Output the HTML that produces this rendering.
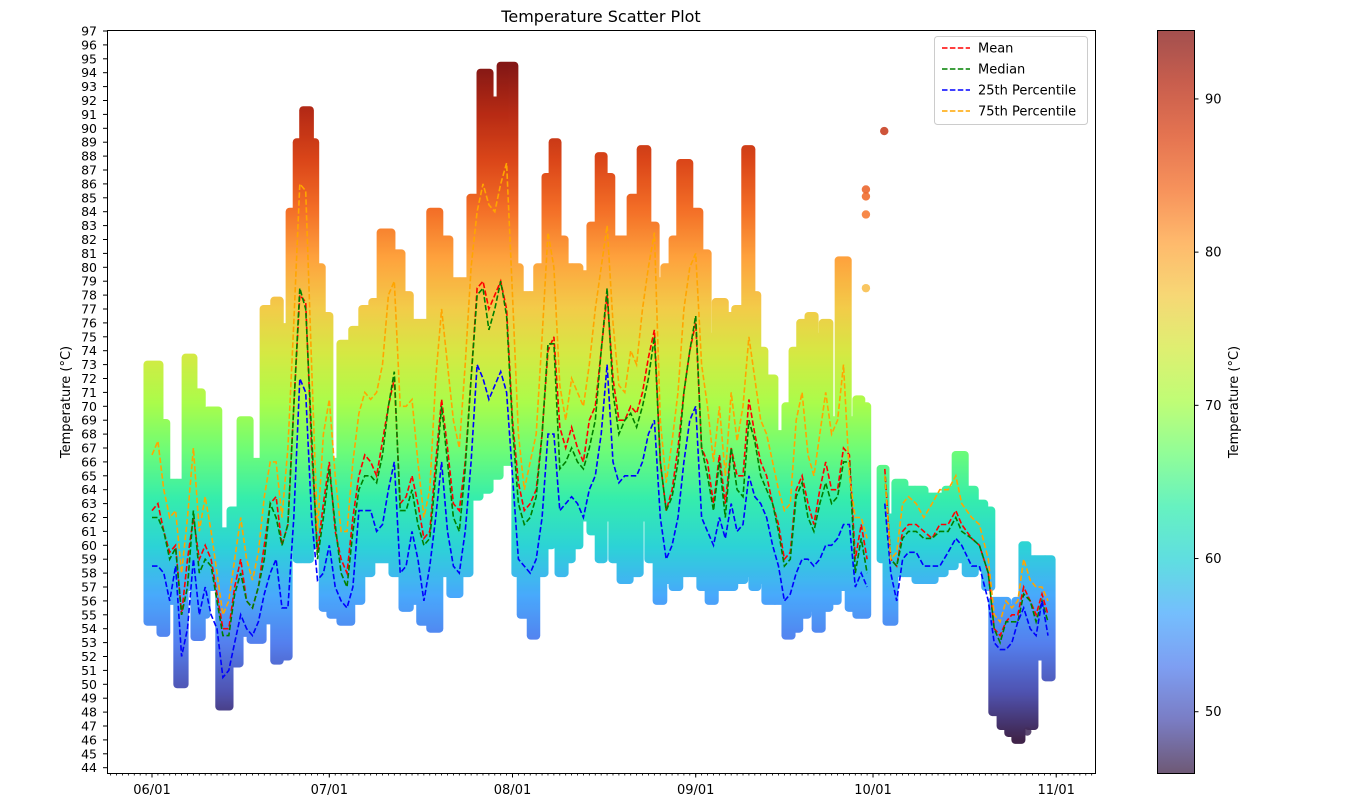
<!DOCTYPE html>
<html><head><meta charset="utf-8">
<style>
html,body{margin:0;padding:0;background:#fff;}
svg{display:block;font-family:"DejaVu Sans","Liberation Sans",sans-serif;}
</style></head>
<body>
<svg id="chart" width="1368" height="804" viewBox="0 0 1368 804" xmlns="http://www.w3.org/2000/svg">
<defs>
<linearGradient id="turboPlot" gradientUnits="userSpaceOnUse" x1="0" x2="0" y1="0" y2="0"></linearGradient>
<linearGradient id="turboBar" x1="0" x2="0" y1="1" y2="0"></linearGradient>
</defs>
<text x="601" y="22" text-anchor="middle" font-size="16">Temperature Scatter Plot</text>
<g id="plot"></g>
</svg>
<script>
// ---- data ----
const monthTickDays = [0, 30, 61, 92, 122, 153];
const monthTickLabels = ["06/01", "07/01", "08/01", "09/01", "10/01", "11/01"];
const colStart = [-0.85,1.35,2.5,4.2,5.6,7.1,8.5,9.3,11.3,13.2,14.9,16.6,18.8,20.6,21.7,23.2,24.4,25.5,26.8,27.7,28.8,30.1,31.8,33.8,35.5,37.2,38.6,40.6,42.3,43.7,45.3,47,48.7,50.4,52.1,53.8,55.5,57.2,58.9,61.4,62.3,64,65.1,66.5,67.7,68.7,69.9,71.1,72.4,74.1,75.5,76.5,77.8,79.2,80.9,82.6,83.9,85.3,86.6,88,89.3,91,92.7,94.1,95.3,97,98.6,100.3,101.5,102.5,103.7,105.4,107.1,108.3,109.6,111,112.2,113.4,114.7,116.1,117.8,119.1,120.1,123.2,124.2,125.7,127.4,129.1,130.8,132.5,134.2,135.9,137.6,139.3,140.9,142.1,143.5,144.8,146,147.2,148.2,149.4,151.1];
const colEnd = [1.35,2.5,4.2,5.6,7.1,8.5,9.3,11.3,13.2,14.9,16.6,18.8,20.6,21.7,23.2,24.4,25.5,26.8,27.7,28.8,30.1,31.8,33.8,35.5,37.2,38.6,40.6,42.3,43.7,45.3,47,48.7,50.4,52.1,53.8,55.5,57.2,58.9,61.4,62.3,64,65.1,66.5,67.7,68.7,69.9,71.1,72.4,74.1,75.5,76.5,77.8,79.2,80.9,82.6,83.9,85.3,86.6,88,89.3,91,92.7,94.1,95.3,97,98.6,100.3,101.5,102.5,103.7,105.4,107.1,108.3,109.6,111,112.2,113.4,114.7,116.1,117.8,119.1,120.1,121.1,124.2,125.7,127.4,129.1,130.8,132.5,134.2,135.9,137.6,139.3,140.9,142.1,143.5,144.8,146,147.2,148.2,149.4,151.1,152.3];
const colMax = [73,68.8,64.5,64.5,73.5,71,67,69.7,61,62.5,69,66,77,77.6,75.7,84,89,91.3,89,80,76.5,66,74.5,75.5,77,77.5,82.5,81,78,76,76,84,82,79,79,85,94,92,94.5,80,78,78,80,86.5,89,82,80,80,79.5,83,88,86.5,82,82,85,88.5,83,79,80,82,87.5,84,81,75,77.5,76.5,77,88.5,78,74,72,68,70,74,76,76.5,75,76,69,80.5,69,70.5,70,65.5,62,64.5,64,64,63.5,63.5,64,66.5,64,63,62.5,56,56,55.5,56,60,59,59,59];
const colMin = [54.5,53.7,56,50,57,53.4,55,57,48.4,51.5,53.7,53.2,54.6,51.7,52,60,59,59,60,61,55.5,55,54.5,56,58,59,59,58,55.5,56,54.5,54,58,56.5,58,63.5,64,65,66,58,55,53.5,58,60,61,58,59,60,62,61,59,62,59,57.5,58,62,59,56,57.5,57,58,58,57,56,57,57,57.5,58,57,57.5,56,56,53.5,54,55,55.5,54,55.5,56,57,55.5,55,55,59,54.5,58,58,57.5,57.5,58,58.5,59,58,58.5,57,48,47,46.5,46,50,47,52,50.5];
const outlierDays = [120.8,120.8,120.8,120.8,123.9,148.1];
const outlierTemps = [85.6,85.1,83.8,78.5,89.8,46.6];
const lineDays = [0,1,2,3,4,5,6,7,8,9,10,11,12,13,14,15,16,17,18,19,20,21,22,23,24,25,26,27,28,29,30,31,32,33,34,35,36,37,38,39,40,41,42,43,44,45,46,47,48,49,50,51,52,53,54,55,56,57,58,59,60,61,62,63,64,65,66,67,68,69,70,71,72,73,74,75,76,77,78,79,80,81,82,83,84,85,86,87,88,89,90,91,92,93,94,95,96,97,98,99,100,101,102,103,104,105,106,107,108,109,110,111,112,113,114,115,116,117,118,119,120,121,124,125,126,127,128,129.3,130.6,132,133.3,134.7,136,137,138.7,140,141.5,142.5,143.5,144.5,145.5,146.5,147.5,148.6,149.6,150.6,151.6];
const meanVals = [62.5,63,61,59.5,60,55,59,62,59,60,59,56.5,54,54,57,59,56,55.5,57,60,63,63.5,60,61.5,70,78,77.5,67,59.5,63,66,61,59,58,62,65,66.5,66,65,67.5,70,72,63,63.5,65,63,60.5,61,66,70.5,67,63,62.5,66,72,78.5,79,77,78,79,77,69,64.5,62.5,63,64,68,74,75,68.5,67,68.5,67,66,69,70,74,78,72,69,69,70,69.5,71,73.5,75.5,66,62.5,64,67,71,74,76,67,66,63,66.5,63,67,65,65,70.5,68,66,65,63,61.5,59,59.5,64,65,63,61.5,64,66,64,64,67,66.5,59,61.5,59,65.5,59,58.5,61,61.5,61.5,61,60.5,61.5,61.5,62.5,61.5,60.5,60,58,54,53.5,54.5,55,55,57,56,55,56.5,55];
const medianVals = [62,62,61,59,59.8,55,57,62.5,58,59,58.5,56,53.5,53.5,56.5,58,56,55.5,57,59,63,62,60,61.5,70,78.5,77,68,59,62,65.5,61.5,58,57,61,64,65,65,64.5,66.5,70,72.5,62.5,62.5,64,61.5,60,60.5,65,70,66,62,61,65.5,72,78,78.5,75.5,77,79,76.5,68.5,63,61.5,62,63.5,68,74.5,74.5,65.5,66,67,66,65.5,67,69,74,78.5,71,68,69,69.5,68.5,70,72,75,66,62.5,63.5,66,71,74,76.5,67,65,62.5,66,62,67,64,63.5,69,67.5,65,64,63,61,58.5,59,63.5,64.5,62,61,63,64.5,63,63.5,66,66,58,60.5,58,65,59,58.5,60.5,61,61,60.5,60.5,61,61,62,61,60.5,60,58,54,53,54.5,54.5,54.5,56.5,56,54.5,56,54.5];
const p25Vals = [58.5,58.5,58,56,58.5,52,54,59,55,57,55,54,50.5,51,53,55,54,53.5,54.5,56.5,58,59,55.5,55.5,62,72,71,62,57.5,58,60,57,56,55.5,57,62.5,62.5,62.5,61,61.5,64,66,58,58.5,61,59,56,58.5,62,66,61,58.5,58,61,66,73,72,70.5,71.5,72.5,71,65,59,58.5,58,59,62,68,68,62.5,63,63.5,63,62,64,65,68,73,66,64.5,65,65,65,66,68,69,62,59,60,62,66,69,70,62,61,60,62,60.5,63,61,61.5,65,63.5,63,62,60,58.5,56,56.5,58,59,59,58.5,59,60,60,60.5,61.5,61.5,57,58,57,63,58,56,59,59.5,59.5,58.5,58.5,58.5,59.5,60.5,60,58.5,58.5,56,53,52.5,52.5,53,54.5,55.5,54,53.5,56,53.5];
const p75Vals = [66.5,67.5,64,62,62.5,58,62,67,61,63.5,61,58,55,56,59,62,59,57.5,59.5,63.5,66,66,62,67,76,86,85.5,73,61,68,70.5,65,61,61,66,69.5,71,70.5,71,73,78,79,70,70,70.5,66,62,64,72,77,73,69,67,73,80,84,86,84.5,84,86,87.5,78,68,64,66,68,75,82.5,80,71.5,69,72,71,70,73,77,80,83,76,71.5,71,74,73,77,80,82.5,69,64.5,67.5,71,77,80,81,73,70,66,70,65,71,67.5,70,75,72,69,68,66,64,62.5,63,69,71,66.5,65,68,71,68,69,73,65,62,62,60.5,65,59,59.5,63,63.5,63,62,63,64,64,65,63,62,61.5,59,55,54.5,56,55.5,56,59,57.5,57,57,56];
const cbTicks = [50, 60, 70, 80, 90];
const yTickMin = 44, yTickMax = 97;

// ---- scales ----
const X0 = 152, PXD = 5.91;
const xS = d => X0 + d * PXD;
const yS = t => 31 + (97 - t) * 13.9;
const CMIN = 46, CMAX = 94.5;
const turbo = ["#30123B","#4145AB","#4675ED","#39A2FC","#1BCFD4","#24ECA6","#61FC6C","#A4FC3B","#D1E834","#F3C63A","#FE9B2D","#F36315","#D93806","#B11901","#7A0402"];
const NS = "http://www.w3.org/2000/svg";
function mk(tag, attrs, parent){const e=document.createElementNS(NS,tag);for(const k in attrs)e.setAttribute(k,attrs[k]);(parent||plot).appendChild(e);return e;}
const plot = document.getElementById('plot');

const gp = document.getElementById('turboPlot');
gp.setAttribute('y1', yS(CMIN)); gp.setAttribute('y2', yS(CMAX));
const gb = document.getElementById('turboBar');
turbo.forEach((c,i)=>{
  mk('stop',{offset:(i/(turbo.length-1)),'stop-color':c},gp);
  mk('stop',{offset:(i/(turbo.length-1)),'stop-color':c},gb);
});
function turboAt(t){const f=Math.max(0,Math.min(1,(t-CMIN)/(CMAX-CMIN)))*(turbo.length-1);const i=Math.min(turbo.length-2,Math.floor(f));const a=f-i;const h=s=>[1,3,5].map(k=>parseInt(s.substr(k,2),16));const c1=h(turbo[i]),c2=h(turbo[i+1]);return 'rgb('+c1.map((v,k)=>Math.round(v+(c2[k]-v)*a)).join(',')+')';}

// scatter columns
const scat = mk('g',{opacity:0.92});


for(let i=0;i<colStart.length;i++){
  const x1=xS(colStart[i])-3.5, x2=xS(colEnd[i])+3.5;
  const r = mk('rect',{x:x1,y:yS(colMax[i])-4,width:x2-x1,height:yS(colMin[i])-yS(colMax[i])+8,rx:4,fill:'url(#turboPlot)'},scat);
  
  
}
for(let i=0;i<outlierDays.length;i++){
  const c = mk('circle',{cx:xS(outlierDays[i]),cy:yS(outlierTemps[i]),r:4.2,fill:turboAt(outlierTemps[i]),opacity:0.85},scat);
  
  
}

// lines
function linePath(vals){let d='',prev=null;for(let i=0;i<lineDays.length;i++){const cmd=(prev===null||lineDays[i]-prev>1.95)?'M':'L';d+=cmd+xS(lineDays[i]).toFixed(1)+','+yS(vals[i]).toFixed(1);prev=lineDays[i];}return d;}
const series = [['mean-line',meanVals,'#ff0000'],['median-line',medianVals,'#008000'],['p25-line',p25Vals,'#0000ff'],['p75-line',p75Vals,'#ffa500']];
series.forEach(s=>{
  const p = mk('path',{d:linePath(s[1]),fill:'none',stroke:s[2],'stroke-width':1.6,'stroke-dasharray':'5.5,2.4'});
  
  
});

// axes frame
const frame = mk('rect',{x:107.5,y:30.5,width:988,height:743,fill:'none',stroke:'#000','stroke-width':1});



// y ticks
const yAxis = mk('g',{'font-size':12.5,fill:'#000'});


for(let t=yTickMin;t<=yTickMax;t++){
  const y=yS(t);
  mk('line',{x1:103,x2:107,y1:y,y2:y,stroke:'#000'},yAxis);
  const tx = mk('text',{x:97,y:y+4.5,'text-anchor':'end'},yAxis);
  tx.textContent=t;
  
  
}
const yl = mk('text',{x:0,y:0,'font-size':13,'text-anchor':'middle',transform:'translate(70,402) rotate(-90)'});
yl.textContent='Temperature (°C)';



// x ticks
const xAxis = mk('g',{'font-size':13,fill:'#000'});


for(let d=-7;d<=159;d++){const x=xS(d);mk('line',{x1:x,x2:x,y1:773,y2:775.5,stroke:'#000','stroke-width':0.8},xAxis);}
monthTickDays.forEach((d,i)=>{
  const x=xS(d);
  mk('line',{x1:x,x2:x,y1:773,y2:777.5,stroke:'#000'},xAxis);
  const tx=mk('text',{x:x,y:794,'text-anchor':'middle'},xAxis);
  tx.textContent=monthTickLabels[i];
  
  
});

// legend
const leg = mk('g',{});


mk('rect',{x:934.5,y:36.5,width:153,height:88,rx:3,fill:'#fff','fill-opacity':0.8,stroke:'#ccc'},leg);
const legNames=['Mean','Median','25th Percentile','75th Percentile'];
series.forEach((s,i)=>{
  const y=48+i*21;
  const g=mk('g',{},leg);
  
  
  mk('line',{x1:942,x2:970,y1:y,y2:y,stroke:s[2],'stroke-width':1.6,'stroke-dasharray':'5.5,2.4'},g);
  const t=mk('text',{x:978,y:y+4.5,'font-size':13},g);
  t.textContent=legNames[i];
});

// colorbar
const cb = mk('g',{});


mk('rect',{x:1157,y:30,width:37,height:743,fill:'url(#turboBar)',opacity:0.7},cb);
mk('rect',{x:1157.5,y:30.5,width:37,height:743,fill:'none',stroke:'#000'},cb);
const cbY = t => 773 - (t-CMIN)/(CMAX-CMIN)*743;
cbTicks.forEach(t=>{
  const y=cbY(t);
  mk('line',{x1:1194.5,x2:1198.5,y1:y,y2:y,stroke:'#000'},cb);
  const tx=mk('text',{x:1205,y:y+4.5,'font-size':13},cb);
  tx.textContent=t;
  
  
});
const cbl = mk('text',{x:0,y:0,'font-size':13,'text-anchor':'middle',transform:'translate(1238,402) rotate(-90)'},cb);
cbl.textContent='Temperature (°C)';


</script>
</body></html>
